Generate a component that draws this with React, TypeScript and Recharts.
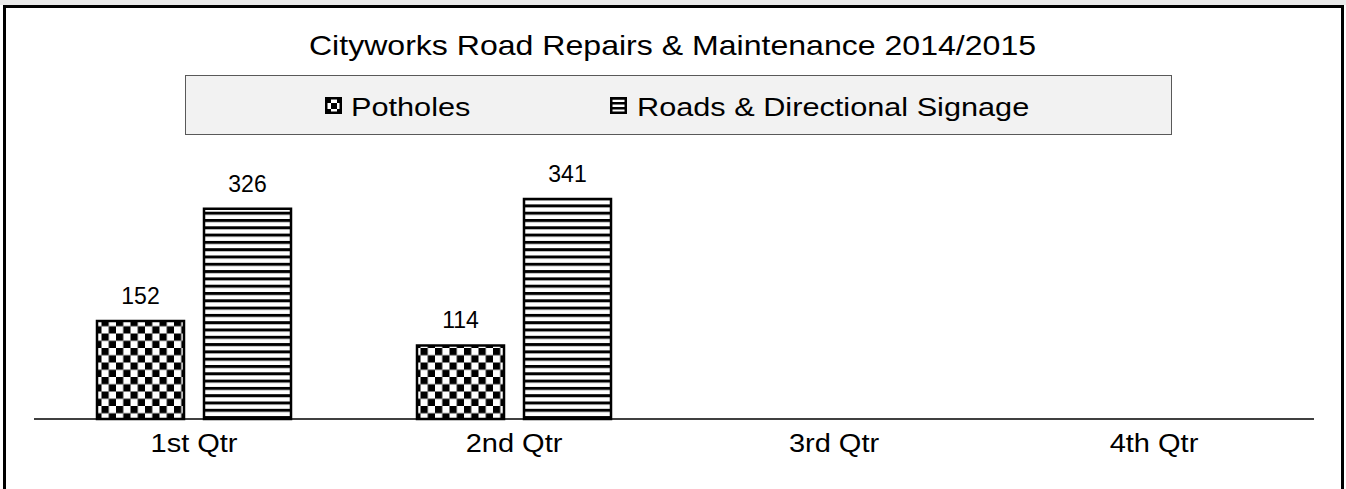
import React from "react";
import { BarChart, Bar, XAxis, YAxis, LabelList } from "recharts";

const categories = ["1st Qtr", "2nd Qtr", "3rd Qtr", "4th Qtr"];
const potholes: (number | null)[] = [152, 114, null, null];
const roadsSignage: (number | null)[] = [326, 341, null, null];
const seriesNames = ["Potholes", "Roads & Directional Signage"];
const titleText = "Cityworks Road Repairs & Maintenance 2014/2015";

const data = categories.map((c, i) => ({
  name: c,
  potholes: potholes[i],
  roads: roadsSignage[i],
}));

const FONT = "'Liberation Sans', Arial, sans-serif";

const Patterns = () => (
  <svg width={0} height={0} style={{ position: "absolute" }}>
    <defs>
      <pattern id="checker" patternUnits="userSpaceOnUse" width={14.5} height={14.5}>
        <rect x={0} y={0} width={14.5} height={14.5} fill="#fff" />
        <rect x={0} y={0} width={7.25} height={7.25} fill="#000" />
        <rect x={7.25} y={7.25} width={7.25} height={7.25} fill="#000" />
      </pattern>
      <pattern id="stripes" patternUnits="userSpaceOnUse" width={10} height={7.3}>
        <rect x={0} y={0} width={10} height={7.3} fill="#fff" />
        <rect x={0} y={0} width={10} height={3} fill="#000" />
      </pattern>
      <pattern id="checkerIcon" patternUnits="userSpaceOnUse" width={12} height={12}>
        <rect x={0} y={0} width={12} height={12} fill="#fff" />
        <rect x={0} y={0} width={6} height={6} fill="#000" />
        <rect x={6} y={6} width={6} height={6} fill="#000" />
      </pattern>
      <pattern id="stripesIcon" patternUnits="userSpaceOnUse" width={10} height={5}>
        <rect x={0} y={0} width={10} height={5} fill="#fff" />
        <rect x={0} y={0} width={10} height={2.5} fill="#000" />
      </pattern>
    </defs>
  </svg>
);

const LegendIcon = ({ fill }: { fill: string }) => (
  <svg width={17} height={17} style={{ display: "block" }}>
    <rect x={1.25} y={1.25} width={14.5} height={14.5} fill={fill} stroke="#000" strokeWidth={2.5} />
  </svg>
);

const QtrTick = (props: any) => {
  const { x, y, payload } = props;
  return (
    <g transform={`translate(${x},${y})`}>
      <text
        x={0}
        y={33}
        textAnchor="middle"
        fill="#000"
        fontSize={25}
        fontFamily={FONT}
        transform="scale(1.16,1)"
      >
        {payload.value}
      </text>
    </g>
  );
};

export default function App() {
  return (
    <div
      style={{
        position: "absolute",
        left: 0,
        top: 0,
        width: 1346,
        height: 489,
        overflow: "hidden",
        background: "#fff",
        fontFamily: FONT,
      }}
    >
      <Patterns />
      <div style={{ position: "absolute", left: 0, top: 0, width: 1346, height: 5, background: "#e9e9e9" }} />
      <div
        style={{
          position: "absolute",
          left: 3,
          top: 5,
          width: 1341,
          height: 500,
          boxSizing: "border-box",
          border: "3px solid #000",
        }}
      />
      <div
        style={{
          position: "absolute",
          left: 0,
          top: 29,
          width: 1346,
          textAlign: "center",
          fontSize: 28,
          lineHeight: "34px",
          color: "#000",
          whiteSpace: "nowrap",
        }}
      >
        <span style={{ display: "inline-block", transform: "scaleX(1.145)" }}>{titleText}</span>
      </div>
      <div
        style={{
          position: "absolute",
          left: 185,
          top: 75,
          width: 987,
          height: 60,
          boxSizing: "border-box",
          border: "1.5px solid #595959",
          background: "#f2f2f2",
        }}
      />
      <div style={{ position: "absolute", left: 325, top: 97 }}>
        <LegendIcon fill="url(#checkerIcon)" />
      </div>
      <div style={{ position: "absolute", left: 351, top: 91.5, fontSize: 26, lineHeight: "30px", whiteSpace: "nowrap" }}>
        <span style={{ display: "inline-block", transform: "scaleX(1.18)", transformOrigin: "left" }}>{seriesNames[0]}</span>
      </div>
      <div style={{ position: "absolute", left: 610, top: 97 }}>
        <LegendIcon fill="url(#stripesIcon)" />
      </div>
      <div style={{ position: "absolute", left: 637, top: 91.5, fontSize: 26, lineHeight: "30px", whiteSpace: "nowrap" }}>
        <span style={{ display: "inline-block", transform: "scaleX(1.18)", transformOrigin: "left" }}>{seriesNames[1]}</span>
      </div>
      <div style={{ position: "absolute", left: 0, top: 0 }}>
        <BarChart
          width={1346}
          height={489}
          data={data}
          margin={{ top: 161, right: 32, bottom: 0, left: 34 }}
          barCategoryGap={63}
          barGap={20}
        >
          <XAxis
            dataKey="name"
            height={70}
            axisLine={{ stroke: "#000", strokeWidth: 1.5 }}
            tickLine={false}
            tickSize={0}
            tickMargin={0}
            tick={<QtrTick />}
            interval={0}
          />
          <YAxis hide domain={[0, 400]} />
          <Bar dataKey="potholes" name={seriesNames[0]} fill="url(#checker)" stroke="#000" strokeWidth={2.5} isAnimationActive={false}>
            <LabelList dataKey="potholes" position="top" offset={17} fill="#000" fontSize={23} fontFamily={FONT} />
          </Bar>
          <Bar dataKey="roads" name={seriesNames[1]} fill="url(#stripes)" stroke="#000" strokeWidth={2.5} isAnimationActive={false}>
            <LabelList dataKey="roads" position="top" offset={17} fill="#000" fontSize={23} fontFamily={FONT} />
          </Bar>
        </BarChart>
      </div>
    </div>
  );
}
